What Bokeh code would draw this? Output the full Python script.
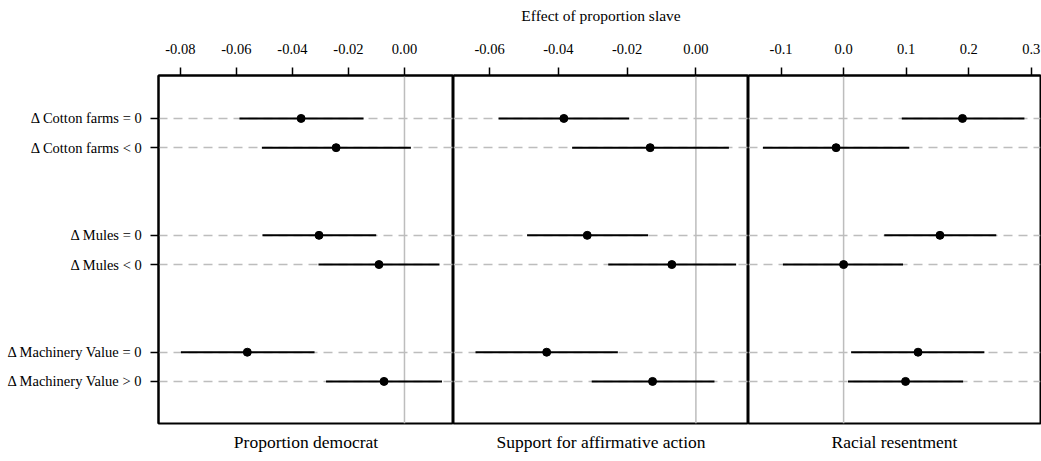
from bokeh.plotting import figure
from bokeh.layouts import row
from bokeh.models import Range1d, FixedTicker, NumeralTickFormatter, Span, Title, ColumnDataSource
from bokeh.embed import file_html
from bokeh.resources import INLINE

# ---- data ----
row_labels = ["\u0394 Cotton farms = 0", "\u0394 Cotton farms < 0",
              "\u0394 Mules = 0", "\u0394 Mules < 0",
              "\u0394 Machinery Value = 0", "\u0394 Machinery Value > 0"]
row_pos = [0, 1, 4, 5, 8, 9]

panel_titles = ["Proportion democrat", "Support for affirmative action", "Racial resentment"]
main_title = "Effect of proportion slave"

dem_est = [-0.0369, -0.0244, -0.0305, -0.0091, -0.0561, -0.0073]
dem_lo = [-0.0589, -0.0509, -0.0507, -0.0307, -0.0798, -0.0280]
dem_hi = [-0.0146, 0.0023, -0.0101, 0.0125, -0.0321, 0.0134]

aff_est = [-0.0384, -0.0133, -0.0316, -0.0070, -0.0434, -0.0126]
aff_lo = [-0.0574, -0.0360, -0.0491, -0.0255, -0.0641, -0.0303]
aff_hi = [-0.0194, 0.0096, -0.0139, 0.0117, -0.0227, 0.0054]

res_est = [0.190, -0.012, 0.154, 0.000, 0.119, 0.099]
res_lo = [0.093, -0.129, 0.065, -0.097, 0.012, 0.007]
res_hi = [0.289, 0.105, 0.244, 0.095, 0.225, 0.191]

dem_ticks = [-0.08, -0.06, -0.04, -0.02, 0.00]
aff_ticks = [-0.06, -0.04, -0.02, 0.00]
res_ticks = [-0.1, 0.0, 0.1, 0.2, 0.3]

FONT = "Liberation Serif"
GREY = "#bdbdbd"


def make_panel(est, lo, hi, xr, ticks, fmt, title, width, left_border, right_border,
               show_y=False, top_label=None):
    p = figure(width=width, height=459, output_backend="svg", toolbar_location=None,
               x_range=Range1d(*xr), y_range=Range1d(10.44, -1.47),
               x_axis_location="above", y_axis_location="left" if show_y else None,
               min_border_left=left_border, min_border_right=right_border,
               min_border_top=75, min_border_bottom=36)
    p.background_fill_color = "white"
    p.border_fill_color = "white"
    p.outline_line_color = "black"
    p.outline_line_width = 2
    p.xgrid.visible = False

    xa = p.xaxis[0]
    xa.ticker = FixedTicker(ticks=ticks)
    xa.formatter = NumeralTickFormatter(format=fmt)
    xa.major_tick_out = 8
    xa.major_tick_in = 0
    xa.minor_tick_line_color = None
    xa.major_tick_line_color = "black"
    xa.major_tick_line_width = 1.5
    xa.axis_line_color = "black"
    xa.axis_line_width = 2
    xa.major_label_text_font = FONT
    xa.major_label_text_font_size = "14.5px"
    xa.major_label_text_color = "black"
    xa.major_label_standoff = 14
    if top_label:
        xa.axis_label = top_label
        xa.axis_label_text_font = FONT
        xa.axis_label_text_font_style = "normal"
        xa.axis_label_text_font_size = "15.5px"
        xa.axis_label_text_color = "black"
        xa.axis_label_standoff = 17

    yg = p.ygrid[0]
    yg.ticker = FixedTicker(ticks=row_pos)
    yg.grid_line_color = GREY
    yg.grid_line_dash = "9 6"
    yg.grid_line_width = 1.5

    if show_y:
        ya = p.yaxis[0]
        ya.ticker = FixedTicker(ticks=row_pos)
        ya.major_label_overrides = {pos: lab for pos, lab in zip(row_pos, row_labels)}
        ya.major_tick_out = 8
        ya.major_tick_in = 0
        ya.minor_tick_line_color = None
        ya.major_tick_line_color = "black"
        ya.major_tick_line_width = 1.5
        ya.axis_line_color = "black"
        ya.axis_line_width = 2
        ya.major_label_text_font = FONT
        ya.major_label_text_font_size = "14.5px"
        ya.major_label_text_color = "black"
        ya.major_label_standoff = 8

    p.add_layout(Span(location=0, dimension="height", line_color=GREY, line_width=1.5,
                      level="underlay"))

    src = ColumnDataSource(dict(y=row_pos, est=est, lo=lo, hi=hi))
    p.segment(x0="lo", y0="y", x1="hi", y1="y", source=src, line_color="black", line_width=2)
    p.scatter(x="est", y="y", source=src, size=8, fill_color="black", line_color="black")

    t = Title(text=title, align="center", text_font=FONT, text_font_size="17.5px",
              text_font_style="normal", text_color="black", standoff=13)
    p.add_layout(t, "below")
    return p


p1 = make_panel(dem_est, dem_lo, dem_hi, (-0.0878, 0.0175), dem_ticks, "0.00",
                panel_titles[0], 453, 158, 0, show_y=True)
p2 = make_panel(aff_est, aff_lo, aff_hi, (-0.0705, 0.0153), aff_ticks, "0.00",
                panel_titles[1], 295, 0, 0, top_label=main_title)
p3 = make_panel(res_est, res_lo, res_hi, (-0.152, 0.3147), res_ticks, "0.0",
                panel_titles[2], 293, 0, 1)

layout = row(p1, p2, p3)
open("out.html", "w").write(file_html(layout, INLINE))
